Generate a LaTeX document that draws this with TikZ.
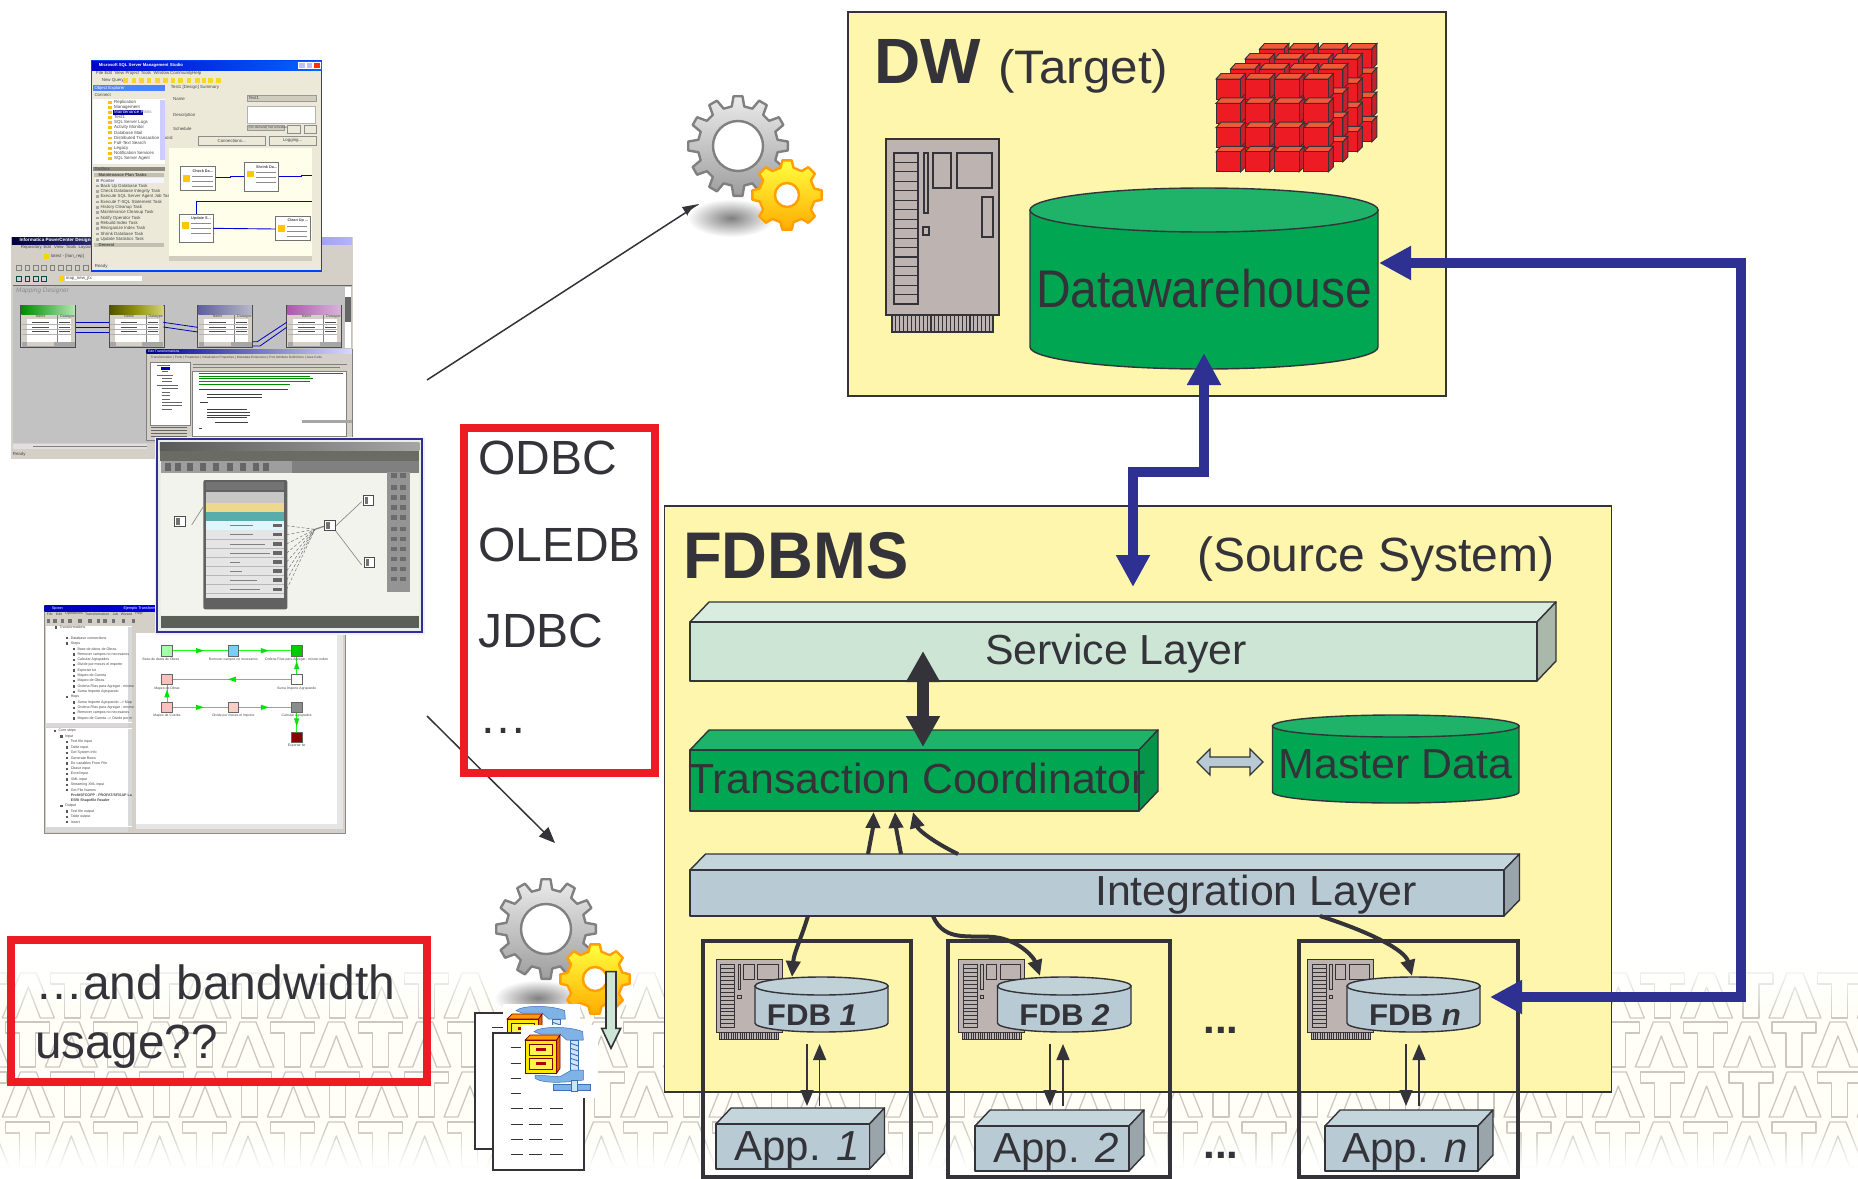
\documentclass[tikz,border=0pt]{standalone}
\usepackage{fontspec}
\setmainfont{Liberation Sans}
\usetikzlibrary{arrows.meta,fadings,shadings}
\definecolor{ink}{HTML}{333339}
\definecolor{paleY}{HTML}{FEF6AD}
\definecolor{grn}{HTML}{00A651}
\definecolor{grnT}{HTML}{1FB36A}
\definecolor{grnS}{HTML}{069448}
\definecolor{svcF}{HTML}{CCE5D5}
\definecolor{svcT}{HTML}{D8ECDF}
\definecolor{svcS}{HTML}{A9B8A8}
\definecolor{intF}{HTML}{B8CAD3}
\definecolor{intT}{HTML}{C5D5DC}
\definecolor{intS}{HTML}{9AA4AB}
\definecolor{srv}{HTML}{BDB3B0}
\definecolor{navy}{HTML}{2E3192}
\definecolor{redB}{HTML}{ED1C24}
\definecolor{cubeT}{HTML}{F15A38}
\definecolor{cubeS}{HTML}{C8202A}
\definecolor{patt}{HTML}{CBC8C2}
\definecolor{winbg}{HTML}{ECE9D8}
\definecolor{greybg}{HTML}{D4D0C8}
\definecolor{clampB}{HTML}{7FB2E5}
\definecolor{clampL}{HTML}{CFE4F7}
\definecolor{clampD}{HTML}{3E6FB5}
\definecolor{canvasW}{HTML}{F3F3EE}
\definecolor{barD}{HTML}{5A5F58}
\definecolor{barM}{HTML}{6A6C64}
\newcommand{\fs}[1]{\fontsize{#1}{#1}\selectfont}
\newcounter{scrn}
\newcommand{\scrtxt}[4][]{\stepcounter{scrn}\node[scrlabel,#1] (scr\arabic{scrn}) at (#2,#3) {#4};}
\newcommand{\prism}[9]{%
  \fill[#8,draw=ink,line width=1.4pt,line join=round] (#1,#4) -- ({#1+#6},#3) -- ({#2+#6},#3) -- (#2,#4) -- cycle;
  \fill[#9,draw=ink,line width=1.4pt,line join=round] (#2,#4) -- ({#2+#6},#3) -- ({#2+#6},{#5-#4+#3}) -- (#2,#5) -- cycle;
  \fill[#7,draw=ink,line width=1.4pt,line join=round] (#1,#4) rectangle (#2,#5);}
\newcommand{\cyl}[7]{% x1 x2 ycentre yend ry body top
  \pgfmathsetmacro{\cylrx}{(#2-#1)/2}
  \fill[#6,draw=ink,line width=1.4pt] (#1,#3) -- (#1,#4) arc[start angle=180,end angle=360,x radius=\cylrx pt,y radius=#5 pt] -- (#2,#3) -- cycle;
  \fill[#7,draw=ink,line width=1.4pt] ({(#1+#2)/2},#3) ellipse[x radius=\cylrx pt,y radius=#5 pt];}
\newcommand{\server}[5]{% x y xscale yscale lw
  \begin{scope}[shift={(#1,#2)},xscale=#3,yscale=#4,line width=#5pt,draw=ink]
    \fill[srv,draw=ink] (0,0) rectangle (113,176);
    \fill[srv,draw=ink] (6,176) rectangle (107,193);
    \foreach \i in {0,...,25} {\draw ({6+\i*3.9},176) -- ({6+\i*3.9},193);}
    \draw (8,14) rectangle (32,165);
    \foreach \i in {1,...,15} {\draw (8,{14+\i*9.45}) -- (33,{14+\i*9.45});}
    \draw (38,14) rectangle (42,74);
    \draw (47,14) rectangle (65,49);
    \draw (71,14) rectangle (106,49);
    \draw (96,58) rectangle (107,98);
    \draw (37,88) rectangle (43,96);
  \end{scope}}
\newcommand{\gearshape}[5]{% cx cy R n style
  \begin{scope}[shift={(#1,#2)}]
    \pgfmathsetmacro{\gs}{360/#4}
    \pgfmathsetmacro{\gr}{.80*#3}
    \path[#5] (-.3*\gs:\gr)
      \foreach \k [evaluate=\k as \ga using \k*\gs] in {0,...,\numexpr#4-1\relax} {
        -- ({\ga-.3*\gs}:\gr) -- ({\ga-.17*\gs}:#3) -- ({\ga+.17*\gs}:#3) -- ({\ga+.3*\gs}:\gr)
      } -- cycle;
  \end{scope}}
\newcommand{\zipicon}{%
  \fill[white] (183,495) rectangle (415,715);
  \fill[clampB,draw=clampD,line width=.5pt] (222,515) .. controls (240,498) and (330,498) .. (368,515) -- (370,540) -- (320,540) -- (300,522) -- (240,522) -- cycle;
  \fill[clampL,draw=clampD,line width=.5pt] (332,540) rectangle (355,630);
  \foreach \yy in {550,565,580,595,610} {\draw[clampD,line width=.9pt] (332,\yy) -- (355,{\yy+8});}
  \fill[clampB,draw=clampD,line width=.5pt] (225,645) -- (300,650) -- (335,630) -- (370,630) -- (370,660) .. controls (320,668) and (250,672) .. (225,655) -- cycle;
  \fill[clampB,draw=clampD,line width=.5pt] (280,672) rectangle (392,692);
  \fill[clampL,draw=clampD,line width=.5pt] (335,660) rectangle (352,695);
  \fill[orange!80!yellow,draw=red!50!black,line width=.7pt] (195,540) -- (210,525) -- (300,525) -- (290,540) -- cycle;
  \fill[orange!85!black,draw=red!50!black,line width=.7pt] (290,540) -- (300,525) -- (300,625) -- (290,640) -- cycle;
  \fill[yellow!90!orange,draw=red!50!black,line width=.7pt] (195,540) rectangle (290,640);
  \fill[yellow!70!white,draw=red!50!black,line width=.6pt] (207,553) rectangle (277,585);
  \fill[yellow!70!white,draw=red!50!black,line width=.6pt] (207,595) rectangle (277,627);
  \fill[red!70!black] (228,565) rectangle (258,573);
  \fill[red!70!black] (228,607) rectangle (258,615);}
\newcommand{\maptable}[3]{%
  \fill[greybg,draw=black!70,line width=.7pt] (#1,795) rectangle ({#1+165},922);
  \shade[left color=#2,right color=#3] ({#1+2},797) rectangle ({#1+163},823);
  \fill[white] ({#1+18},838) rectangle ({#1+150},905);
  \fill[black!35] ({#1+3},905) rectangle ({#1+162},920);
  \fill[greybg] ({#1+20},905) rectangle ({#1+100},918);
  \scrtxt[font=\fs{3.6}]{#1+45}{830}{Name}
  \scrtxt[font=\fs{3.6}]{#1+118}{830}{Datatype}
  \draw[black!50,line width=.3pt] ({#1+110},825) -- ({#1+110},905);
  \foreach \yy in {853,868,883} {\draw[black!30,line width=.3pt] ({#1+3},\yy) -- ({#1+150},\yy);}
  \foreach \yy in {847,861,875} {
    \draw[black!70,line width=.9pt] ({#1+35},\yy) -- ({#1+85},\yy);
    \draw[black!70,line width=.9pt] ({#1+116},\yy) -- ({#1+148},\yy);}}
\tikzset{
  scrlabel/.style={font=\fs{4.4},text=black!72,inner sep=0pt,anchor=west},
  heading/.style={inner sep=0pt,anchor=base,text=ink},
  taglabel/.style={inner sep=0pt,anchor=base west,text=ink,font=\fs{48}},
  panel/.style={draw=ink,fill=paleY,line width=1.8pt,inner sep=0pt,outer sep=0pt,anchor=north west},
  redframe/.style={draw=redB,line width=8pt,fill=none,inner sep=0pt,outer sep=0pt,anchor=north west},
  hostframe/.style={draw=ink,line width=4pt,fill=none,inner sep=0pt,outer sep=0pt,anchor=north west},
  buslink/.style={navy,line width=10.5pt,line join=miter},
  flowthick/.style={draw=ink,line width=4pt,-{Triangle[length=16pt,width=14pt]}},
  flowthin/.style={draw=ink,line width=1.5pt,-{Triangle[length=16pt,width=13pt]}},
  thinpointer/.style={draw=ink,line width=1.5pt,-{Triangle[length=16pt,width=13pt]}},
  bigG/.style={fill,top color=black!8,bottom color=black!38,draw=black!50,line width=2.4pt,line join=round},
  smallG/.style={fill,top color=yellow!75!white,bottom color=orange!65!yellow,draw=orange!75!yellow,line width=2.4pt,line join=round},
  Zone/.style={x=.33333pt,y=-.33333pt,shift={(0pt,-40pt)}},
  Ztwo/.style={x=.33333pt,y=-.33333pt,shift={(0pt,-430pt)}},
  Zfour/.style={x=.33333pt,y=-.33333pt,shift={(460pt,-860pt)}},
}
\begin{document}
\begin{tikzpicture}[x=1pt,y=-1pt]
\useasboundingbox (0,0) rectangle (1858,1178);
\fill[white] (0,0) rectangle (1858,1178);
% ---------- background pattern
\begin{scope}
  \clip (0,950) rectangle (1858,1178);
  \fill[white!97!yellow] (0,960) rectangle (1858,1165);
  \foreach \ry/\ax in {973/205,1022/248,1072/205,1122/248} {
    \foreach \k in {-3,...,19} {
      \pgfmathsetmacro{\apx}{\ax+\k*88.33}
      \pgfmathsetmacro{\tx}{\apx+44.5}
      \draw[patt,line width=1.3pt,line join=round,shift={(\apx,\ry)}]
        (-26,45) -- (-8,0) -- (8,0) -- (26,45) -- (12,45) -- (0,14) -- (-12,45) -- cycle;
      \draw[patt,line width=1.3pt,line join=round,shift={(\tx,\ry)}]
        (-22,0) -- (22,0) -- (22,11) -- (8,11) -- (8,45) -- (-8,45) -- (-8,11) -- (-22,11) -- cycle;
    }
  }
\end{scope}
\fill[white,path fading=south] (0,958) rectangle (1858,1020);
\fill[white,path fading=north] (0,1126) rectangle (1858,1168);
\fill[white] (0,1168) rectangle (1858,1178);

% ---------- window 2: mapping designer
\begin{scope}[Zone]
  \fill[greybg] (33,590) rectangle (1058,1258);
  \shade[left color=black!75!blue,right color=blue!30!white] (36,593) rectangle (1055,612);
  \scrtxt[text=white,font=\bfseries\fs{4.6}]{58}{602}{Informatica PowerCenter Designer}
  \scrtxt{62}{622}{Repository}
  \scrtxt{130}{622}{Edit}
  \scrtxt{162}{622}{View}
  \scrtxt{197}{622}{Tools}
  \scrtxt{235}{622}{Layout}
  \foreach \xx in {50,75,100,125,150,175,200,225,250} {\draw[black!50,line width=.8pt] (\xx,676) rectangle ({\xx+14},690);}
  \fill[yellow!70!orange] (132,643) rectangle (146,656);
  \scrtxt{152}{648}{latest - [han\_rep]}
  \foreach \xx in {50,75,100,125} {\draw[teal!60!black,line width=.8pt] (\xx,709) rectangle ({\xx+14},723);}
  \fill[white] (195,708) rectangle (425,724);
  \fill[yellow!70!orange] (177,709) rectangle (191,723);
  \scrtxt{197}{716}{map\_new\_jtx}
  \fill[black!24] (38,735) rectangle (1056,1208);
  \draw[black!60,line width=.7pt] (38,735) -- (1056,735);
  \scrtxt[font=\itshape\fs{6.5},text=black!45]{48}{752}{Mapping Designer}
  \maptable{62}{green!55!black}{green!25!white!80!gray}
  \maptable{327}{olive!65!black}{olive!35!white}
  \maptable{593}{blue!25!gray}{blue!12!gray!50}
  \maptable{860}{violet!65}{violet!30!white}
  \foreach \yy in {847,861,876} {\draw[blue!75!black,line width=.8pt] (228,\yy) -- (327,\yy);}
  \draw[blue!75!black,line width=.8pt] (490,847) -- (593,862);
  \draw[blue!75!black,line width=.8pt] (490,861) -- (593,876);
  \draw[blue!75!black,line width=.8pt] (757,905) -- (772,905) -- (860,847);
  \draw[blue!75!black,line width=.8pt] (757,918) -- (780,918) -- (860,862);
  \fill[white] (1036,740) rectangle (1052,925);
  \fill[black!60] (1036,770) rectangle (1052,845);
  \fill[black!12] (40,1212) rectangle (440,1228);
  \fill[black!50] (100,1218) rectangle (440,1222);
  \fill[greybg] (33,1232) rectangle (450,1258);
  \scrtxt{38}{1244}{Ready}
  % ---------- window 3: edit transformations
  \fill[greybg,draw=black!50,line width=.5pt] (440,928) rectangle (1056,1200);
  \shade[left color=blue!55!black,right color=blue!15!white] (440,929) rectangle (1056,941);
  \scrtxt[text=white,font=\fs{3.4}]{444}{935}{Edit Transformations}
  \scrtxt[font=\fs{3.2}]{452}{952}{Transformation | Ports | Properties | Initialization Properties | Metadata Extensions | Port Attribute Definitions | Java Code}
  \draw[black!50,line width=.6pt] (578,972) -- (1040,972) (578,982) -- (1020,982);
  \fill[white,draw=black!50,line width=.4pt] (452,968) rectangle (570,1155);
  \fill[white,draw=black!50,line width=.4pt] (578,995) rectangle (1040,1190);
  \foreach \yy/\xa/\xb in {975/470/510,985/485/510,995/485/505,1005/470/520,1015/485/515,1025/485/515,1035/470/535,1045/485/535,1056/485/510,1066/485/510,1077/485/510,1087/485/545,1097/485/545,1107/485/515} {\draw[black!60,line width=.7pt] (\xa,\yy) -- (\xb,\yy);}
  \fill[blue!70!black] (484,981) rectangle (510,990);
  \foreach \yy/\xa/\xb in {1000/598/1030,1008/598/930,1016/598/940,1024/598/930,1032/598/870} {\draw[green!55!black,line width=.8pt] (\xa,\yy) -- (\xb,\yy);}
  \foreach \yy/\xa/\xb in {1048/598/865,1064/620/785,1072/620/785,1088/600/625,1108/620/740,1117/620/750,1125/620/750,1133/620/740,1148/645/745,1165/598/605} {\draw[black!75,line width=.8pt] (\xa,\yy) -- (\xb,\yy);}
  \draw[black!60,line width=.8pt] (452,1163) -- (560,1163) (452,1172) -- (560,1172) (452,1181) -- (560,1181) (452,1189) -- (560,1189);
  \fill[black!35] (905,1140) rectangle (1056,1150);
  % ---------- window 1: SQL Server Management Studio
  \fill[winbg,draw=blue!75!cyan,line width=1.5pt] (275,62) rectangle (965,693);
  \shade[left color=blue!80!black,right color=blue!60!cyan] (276,64) rectangle (964,90);
  \scrtxt[text=white,font=\bfseries\fs{4.2}]{296}{77}{Microsoft SQL Server Management Studio}
  \fill[blue!25!white,draw=white,line width=.4pt] (895,67) rectangle (915,85);
  \fill[blue!25!white,draw=white,line width=.4pt] (918,67) rectangle (937,85);
  \fill[red!60!orange,draw=white,line width=.4pt] (940,67) rectangle (960,85);
  \scrtxt{288}{100}{File}
  \scrtxt{313}{100}{Edit}
  \scrtxt{343}{100}{View}
  \scrtxt{376}{100}{Project}
  \scrtxt{422}{100}{Tools}
  \scrtxt{460}{100}{Window}
  \scrtxt{510}{100}{Community}
  \scrtxt{576}{100}{Help}
  \scrtxt{305}{122}{New Query}
  \foreach \xx in {370,395,418,440,465,490,512,535,560,585,605,625,648} {\fill[yellow!60!orange!80] (\xx,115) rectangle ({\xx+14},128);}
  \fill[blue!70!cyan!70] (279,136) rectangle (496,153);
  \scrtxt[text=white]{283}{144}{Object Explorer}
  \scrtxt{283}{166}{Connect}
  \fill[white] (280,178) rectangle (495,372);
  \foreach \yy/\tt in {187/Replication,202/Management,217/Maintenance Plans,232/Test1,248/SQL Server Logs,263/Activity Monitor,278/Database Mail,294/Distributed Transaction Coord,309/Full-Text Search,325/Legacy,340/Notification Services,355/SQL Server Agent} {
    \scrtxt{342}{\yy}{\tt}
    \fill[yellow!55!orange] (325,{\yy-4}) rectangle (336,{\yy+4});}
  \fill[blue!60!black] (340,210) rectangle (430,224);
  \scrtxt[text=white]{342}{217}{Maintenance Plans}
  \fill[blue!20!white] (480,180) rectangle (495,360);
  \fill[black!40!winbg] (280,380) rectangle (495,394);
  \scrtxt{283}{387}{Toolbox}
  \fill[black!18!winbg] (282,400) rectangle (493,412);
  \scrtxt[font=\bfseries\fs{4.2}]{295}{406}{Maintenance Plan Tasks}
  \fill[white!60!blue!10] (284,414) rectangle (493,430);
  \foreach \yy/\tt in {422/Pointer,438/Back Up Database Task,454/Check Database Integrity Task,470/Execute SQL Server Agent Job Task,486/Execute T-SQL Statement Task,502/History Cleanup Task,518/Maintenance Cleanup Task,534/Notify Operator Task,550/Rebuild Index Task,566/Reorganize Index Task,582/Shrink Database Task,598/Update Statistics Task} {
    \scrtxt{301}{\yy}{\tt}
    \fill[black!35] (287,{\yy-4}) rectangle (297,{\yy+4});}
  \fill[black!18!winbg] (282,609) rectangle (493,621);
  \scrtxt[font=\bfseries\fs{4.2}]{295}{615}{General}
  \scrtxt{284}{680}{Ready}
  \scrtxt{512}{143}{Test1 [Design]}
  \scrtxt{600}{143}{Summary}
  \scrtxt{519}{178}{Name}
  \scrtxt{519}{226}{Description}
  \scrtxt{519}{268}{Schedule}
  \fill[black!12!winbg,draw=black!40,line width=.4pt] (742,167) rectangle (950,185);
  \scrtxt{745}{175}{Test1}
  \fill[white,draw=black!30,line width=.4pt] (742,200) rectangle (945,250);
  \fill[black!12!winbg,draw=black!40,line width=.4pt] (742,257) rectangle (852,272);
  \scrtxt[font=\fs{3.2}]{745}{264}{(On demand) Not scheduled}
  \fill[winbg,draw=black!45,line width=.4pt] (862,257) rectangle (900,280);
  \fill[winbg,draw=black!45,line width=.4pt] (912,257) rectangle (950,280);
  \fill[winbg,draw=black!45,line width=.5pt] (596,290) rectangle (797,315);
  \scrtxt[anchor=center]{695}{302}{Connections...}
  \fill[winbg,draw=black!45,line width=.5pt] (807,290) rectangle (950,315);
  \scrtxt[anchor=center]{878}{302}{Logging...}
  \fill[yellow!8!white] (507,323) rectangle (935,648);
  \fill[black!12!winbg] (507,648) rectangle (935,662);
  \foreach \xa/\ya/\xb/\yb/\tt in {542/380/647/450/{Check Da...},733/367/836/455/{Shrink Da...},538/522/640/607/{Update S...},827/530/930/602/{Clean Up ...}} {
    \fill[white,draw=black!55,line width=.7pt] (\xa,\ya) rectangle (\xb,\yb);
    \scrtxt[font=\bfseries\fs{3.8}]{\xa+35}{\ya+13}{\tt}
    \foreach \rr in {29,44,59} {\draw[black!45,line width=.7pt] ({\xa+35},{\ya+\rr}) -- ({\xb-8},{\ya+\rr});}
    \fill[yellow!60!orange] ({\xa+8},{\ya+25}) rectangle ({\xa+28},{\ya+45});}
  \draw[blue!85!black,line width=.9pt] (647,413) -- (690,413) -- (690,410) -- (733,410);
  \draw[blue!85!black,line width=.9pt] (836,410) -- (905,410) -- (905,405) -- (936,405);
  \draw[blue!85!black,line width=.9pt] (936,485) -- (590,485) -- (590,522);
  \draw[blue!85!black,line width=.9pt] (640,565) -- (827,567);
\end{scope}

% ---------- window 5: Spoon, window 4: blurred designer
\begin{scope}[Ztwo]
  \fill[greybg,draw=black!45,line width=.5pt] (132,525) rectangle (1037,1210);
  \shade[left color=blue!70!black,right color=blue!90!black] (134,527) rectangle (480,543);
  \scrtxt[text=white,font=\fs{3.8}]{155}{535}{Spoon}
  \scrtxt[text=white,font=\fs{3.8}]{370}{535}{Ejemplo Transform}
  \scrtxt[font=\fs{3.6}]{140}{552}{File}
  \scrtxt[font=\fs{3.6}]{167}{552}{Edit}
  \scrtxt[font=\fs{3.6}]{195}{552}{Operations}
  \scrtxt[font=\fs{3.6}]{255}{552}{Transformation}
  \scrtxt[font=\fs{3.6}]{337}{552}{Job}
  \scrtxt[font=\fs{3.6}]{362}{552}{Wizard}
  \scrtxt[font=\fs{3.6}]{405}{552}{Help}
  \foreach \xx in {140,160,182,205,235,265,290,310,335,365,395} {\fill[black!55] (\xx,566) rectangle ({\xx+10},578);}
  \fill[white] (138,588) rectangle (396,878);
  \fill[white] (138,895) rectangle (396,1190);
  \fill[black!15] (385,590) rectangle (396,875);
  \fill[black!15] (385,897) rectangle (396,1188);
  \fill[black!15] (138,878) rectangle (385,890);
  \fill[black!15] (138,1192) rectangle (385,1205);
  \foreach \yy/\xx/\tt in {592/178/Transformations,624/212/Database connections,640/212/Steps,657/232/Base de datos de Obras,673/232/Remover campos no necesarios,689/232/Calcular Agrupados,705/232/Divide por meses el importe,721/232/Exportar txt,737/232/Mapeo de Cuenta,753/232/Mapeo de Obras,769/232/Ordena Filas para Agregar - mismo,785/232/Suma Importe Agrupando,801/212/Hops,817/232/Suma Importe Agrupando --> Map,833/232/Ordena Filas para Agregar - mismo,849/232/Remover campos no necesarios,865/232/Mapeo de Cuenta --> Divide por m,903/175/Core steps,919/195/Input,936/212/Text file input,952/212/Table input,968/212/Get System Info,984/212/Generate Rows,1000/212/Do variables From File,1016/212/Cbase input,1032/212/Excel input,1048/212/XML input,1064/212/Streaming XML input,1080/212/Get File Names,1144/212/Text file output,1160/212/Table output,1176/212/Insert / Update,1128/195/Output} {
    \scrtxt[font=\fs{3.6}]{\xx}{\yy}{\tt}
    \fill[black!65] ({\xx-14},{\yy-3}) rectangle ({\xx-7},{\yy+4});}
  \scrtxt[font=\bfseries\fs{3.6}]{212}{1096}{ProfitSFCOPP - PROFAT/SF/SAP La}
  \scrtxt[font=\bfseries\fs{3.6}]{212}{1112}{ESRI Shapefile Reader}
  \fill[white] (408,610) rectangle (1010,1182);
  \fill[black!10] (1010,610) rectangle (1028,1195);
  \fill[black!10] (408,1182) rectangle (1028,1197);
  \foreach \xa/\ya/\xb/\yb in {501/662/700/662,700/662/890/662,890/748/890/662,890/748/501/748,501/832/501/748,501/832/700/832,700/832/890/832,890/832/890/922} {
    \draw[green!90!white,line width=.8pt] (\xa,\ya) -- (\xb,\yb);
    \fill[green!90!black] ({(\xa+\xb)/2+(\xb>\xa)*12-(\xb<\xa)*12},{(\ya+\yb)/2+(\yb>\ya)*12-(\yb<\ya)*12}) -- ++({(\xb<\xa)*24-(\xb>\xa)*24+(\xb==\xa)*8},{(\yb<\ya)*24-(\yb>\ya)*24+(\yb==\ya)*8}) -- ++({(\xb==\xa)*-16},{(\yb==\ya)*-16}) -- cycle;}
  \foreach \xx/\yy/\cc in {501/662/green!35!white,700/662/cyan!55!white,890/662/green!80!black,890/748/white,501/748/red!25!white,501/832/red!25!white,700/832/red!20!white,890/832/black!45,890/922/red!55!black} {
    \fill[\cc,draw=black!60,line width=.5pt] ({\xx-16},{\yy-16}) rectangle ({\xx+16},{\yy+16});}
  \foreach \xx/\yy/\tt in {483/689/Base de datos de Obras,700/689/Remover campos no necesarios,890/689/Ordena Filas para Agregar - mismo orden,890/775/Suma Importe Agrupando,501/775/Mapeo de Obras,501/858/Mapeo de Cuenta,700/858/Divide por meses el importe,890/858/Calcular Agrupados,890/948/Exportar txt} {
    \scrtxt[font=\fs{3.4},anchor=center]{\xx}{\yy}{\tt}}
  % window 4
  \fill[white!94!blue] (465,22) rectangle (1275,615);
  \fill[black!8] (470,28) rectangle (1267,607);
  \draw[navy,line width=1.8pt] (470,28) rectangle (1265,605);
  \shade[left color=black!65,right color=black!35] (480,36) rectangle (1258,62);
  \fill[barM] (480,62) rectangle (1258,92);
  \fill[black!38] (482,92) rectangle (875,130);
  \fill[black!50] (875,92) rectangle (1258,130);
  \foreach \xx in {495,525,560,600,640,680,720,760,790} {\fill[black!60] (\xx,100) rectangle ({\xx+18},122);}
  \fill[canvasW] (482,130) rectangle (1258,555);
  \fill[barD] (482,558) rectangle (1258,595);
  \fill[black!42] (1160,125) rectangle (1230,485);
  \foreach \yy in {130,165,195,225,255,290,320,350,380,410,440} {
    \fill[black!58] (1172,\yy) rectangle (1190,{\yy+14});
    \fill[black!58] (1200,\yy) rectangle (1218,{\yy+14});}
  \fill[black!62,rounded corners=2pt] (610,150) rectangle (862,538);
  \fill[black!22] (618,185) rectangle (853,505);
  \fill[black!55] (618,155) rectangle (853,180);
  \fill[yellow!45!brown!55!white] (618,218) rectangle (853,245);
  \fill[teal!65!white] (618,245) rectangle (853,272);
  \fill[cyan!12!white] (618,272) rectangle (853,300);
  \fill[black!10] (618,300) rectangle (853,505);
  \foreach \yy in {328,356,382,410,437,464,490} {\draw[black!28,line width=.5pt] (618,\yy) -- (853,\yy);}
  \foreach \yy/\wd in {287/70,314/70,342/105,369/120,396/30,423/35,450/80,478/90} {
    \draw[black!50,line width=1pt] (690,\yy) -- ({690+\wd},\yy);
    \fill[black!60] (820,{\yy-5}) rectangle (845,{\yy+5});
    \draw[black!55,line width=.5pt,densely dashed] (860,\yy) -- (945,298);}
  \draw[black!50,line width=1.2pt] (945,298) -- (975,288);
  \draw[black!45,line width=.7pt] (1005,290) -- (1085,215);
  \draw[black!45,line width=.7pt] (1005,300) -- (1085,405);
  \draw[black!45,line width=.7pt] (575,285) -- (610,230);
  \foreach \xa/\ya in {525/260,1090/197,1093/383,975/272} {
    \fill[white,draw=black!70,line width=1pt] (\xa,\ya) rectangle ({\xa+32},{\ya+30});
    \fill[black!55] ({\xa+4},{\ya+4}) rectangle ({\xa+14},{\ya+24});}
\end{scope}

% ---------- thin pointers and red frames
\coordinate (ptrA) at (427,380);
\coordinate (ptrB) at (699,204);
\coordinate (ptrC) at (427,716);
\coordinate (ptrD) at (555,843);
\draw[thinpointer] (ptrA) -- (ptrB);
\draw[thinpointer] (ptrC) -- (ptrD);
\node[redframe,minimum width=191pt,minimum height=345pt] (apis) at (464,428) {};
\node[taglabel] (odbc) at (478,474) {ODBC};
\node[taglabel] (oledb) at (478,561) {OLEDB};
\node[taglabel] (jdbc) at (478,647) {JDBC};
\node[taglabel] (more) at (479,733) {…};
\node[redframe,minimum width=416pt,minimum height=142pt] (bwframe) at (11,940) {};
\node[taglabel] (bwa) at (35,999) {…and bandwidth};
\node[taglabel] (bwb) at (35,1058) {\scalebox{.99}[1]{usage??}};

% ---------- gears
\shade[inner color=black!50,outer color=white,shading=radial] (731,218) ellipse[x radius=44pt,y radius=19pt];
\gearshape{738}{146}{50}{12}{bigG}
\fill[white,draw=black!50,line width=2.4pt] (738,146) circle[radius=25pt];
\gearshape{787}{195}{35}{8}{smallG}
\fill[white,draw=orange!75!yellow,line width=2.4pt] (787,195) circle[radius=12pt];

\fill[white] (492,877) rectangle (633,1005);
\shade[inner color=black!50,outer color=white,shading=radial] (538,998) ellipse[x radius=44pt,y radius=18pt];
\gearshape{546}{929}{50}{12}{bigG}
\fill[white,draw=black!50,line width=2.4pt] (546,929) circle[radius=25pt];
\gearshape{595}{979}{35}{8}{smallG}
\fill[white,draw=orange!75!yellow,line width=2.4pt] (595,979) circle[radius=12pt];
\begin{scope}[Zfour]
  \fill[white,draw=ink,line width=2pt] (45,458) rectangle (300,868);
  \draw[ink,line width=1.6pt] (95,503) -- (130,503);
  \begin{scope}[shift={(-18pt,21pt)}]\zipicon\end{scope}
  \fill[white,draw=ink,line width=2pt] (100,520) rectangle (373,930);
  \foreach \yy in {563,610,655,700} {\draw[ink,line width=1.6pt] (152,\yy) -- (183,\yy);}
  \foreach \yy in {746,793,838,883} {
    \draw[ink,line width=1.6pt] (152,\yy) -- (190,\yy) (208,\yy) -- (247,\yy) (270,\yy) -- (310,\yy);}
  \zipicon
  \fill[svcF,draw=ink,line width=1.6pt,line join=miter] (438,335) -- (468,335) -- (468,505) -- (482,505) -- (453,565) -- (425,505) -- (438,505) -- cycle;
\end{scope}

% ---------- DW panel
\node[panel,minimum width=598pt,minimum height=384pt] (dwbox) at (848,12) {};
\node[heading,font=\bfseries\fs{64},anchor=base west] (dwt) at (874,83) {DW};
\node[heading,font=\fs{47},anchor=base west] (dwtarget) at (998,83) {\scalebox{1.05}[1]{(Target)}};
\foreach \l in {3,2,1,0} {
  \foreach \r in {0,1,2,3} {
    \foreach \c in {0,1,2,3} {
      \pgfmathsetmacro{\cx}{1216+\c*29.3+\l*14.5}
      \pgfmathsetmacro{\cy}{79+\r*24.3-\l*10}
      \fill[cubeT,draw=ink,line width=.9pt] (\cx,\cy) -- ({\cx+5},{\cy-5.5}) -- ({\cx+29.5},{\cy-5.5}) -- ({\cx+24.5},\cy) -- cycle;
      \fill[cubeS,draw=ink,line width=.9pt] ({\cx+24.5},\cy) -- ({\cx+29.5},{\cy-5.5}) -- ({\cx+29.5},{\cy+15}) -- ({\cx+24.5},{\cy+20}) -- cycle;
      \fill[redB,draw=ink,line width=.9pt] (\cx,\cy) rectangle ({\cx+24.5},{\cy+20});
    }
  }
}
\server{886}{139}{1}{1}{1.1}
\cyl{1030}{1378}{210}{347}{22}{grn}{grnT}
\node[heading,font=\fs{53}] (dwh) at (1204,307) {\scalebox{.905}[1]{Datawarehouse}};

% ---------- FDBMS panel
\node[panel,minimum width=947pt,minimum height=586pt] (fdbms) at (664.5,506) {};
\node[heading,font=\bfseries\fs{66},anchor=base west] (fdbmst) at (683,578) {\scalebox{.96}[1]{FDBMS}};
\node[heading,font=\fs{48},anchor=base west] (srcs) at (1197,571) {(Source System)};
\prism{690}{1537}{602}{622}{681}{19}{svcF}{svcT}{svcS}
\node[heading,font=\fs{42}] (svc) at (1116,664) {\scalebox{1.02}[1]{Service Layer}};
\prism{690}{1139}{730}{750}{811}{19}{grn}{grnT}{grnS}
\node[heading,font=\fs{42}] (tc) at (917,793) {\scalebox{1.02}[1]{Transaction Coordinator}};
\cyl{1272.5}{1519}{726}{792}{11}{grn}{grnT}
\node[heading,font=\fs{42}] (master) at (1395.5,778) {\scalebox{1.02}[1]{Master Data}};
\prism{690}{1504}{854}{870}{916}{15.5}{intF}{intT}{intS}
\node[heading,font=\fs{42}] (integ) at (1256,905) {\scalebox{1.02}[1]{Integration Layer}};
% hollow double arrow
\fill[intF,draw=ink,line width=1.3pt,line join=miter] (1197,762) -- (1210,749) -- (1210,757) -- (1250,757) -- (1250,749) -- (1263,762) -- (1250,775) -- (1250,767) -- (1210,767) -- (1210,775) -- cycle;
% service <-> coordinator
\coordinate (svcTip) at (923,651);
\coordinate (tcTip) at (923,747);
\draw[ink,line width=11.5pt,{Triangle[length=31pt,width=32pt]}-{Triangle[length=31pt,width=32pt]}] (svcTip) -- (tcTip);

% ---------- hosts
\foreach \bx/\bw in {703/208,948/222,1299/219} {
  \node[hostframe,minimum width=\bw pt,minimum height=236pt] (host\bx) at (\bx,941) {};
}
\foreach \sx in {716,958.5,1307.5} {\server{\sx}{959}{.584}{.415}{.8}}
\cyl{755}{888}{986}{1023}{9}{intF}{intT!60!intF}
\cyl{997.5}{1131}{986}{1023}{9}{intF}{intT!60!intF}
\cyl{1347}{1480}{986}{1023}{9}{intF}{intT!60!intF}
\node[heading,font=\bfseries\fs{30}] (fdba) at (812,1025) {\scalebox{1.04}[1]{FDB \textit{1}}};
\node[heading,font=\bfseries\fs{30}] (fdbb) at (1064.5,1025) {\scalebox{1.04}[1]{FDB \textit{2}}};
\node[heading,font=\bfseries\fs{30}] (fdbc) at (1415,1025) {\scalebox{1.04}[1]{FDB \textit{n}}};
\prism{716}{869.5}{1108}{1124}{1169}{15}{intF}{intT}{intS}
\prism{975}{1129}{1110}{1126}{1171}{15}{intF}{intT}{intS}
\prism{1325}{1478}{1110}{1126}{1171}{15}{intF}{intT}{intS}
\node[heading,font=\fs{42}] (appa) at (797,1160) {App. \textit{1}};
\node[heading,font=\fs{42}] (appb) at (1056,1162) {App. \textit{2}};
\node[heading,font=\fs{42}] (appc) at (1405,1162) {App. \textit{n}};
\node[heading,font=\bfseries\fs{42}] (dotsa) at (1221,1033) {...};
\node[heading,font=\bfseries\fs{42}] (dotsb) at (1221,1158) {...};

% ---------- flows between layer, coordinator, databases
\coordinate (ilU1) at (868,854); \coordinate (tcD1) at (873.5,812);
\coordinate (ilU2) at (901,854); \coordinate (tcD2) at (895,812);
\coordinate (ilU3) at (958,854); \coordinate (tcD3) at (913,812);
\draw[flowthick] (ilU1) .. controls (871,838) and (873,828) .. (tcD1);
\draw[flowthick] (ilU2) .. controls (898,838) and (896,828) .. (tcD2);
\draw[flowthick] (ilU3) .. controls (935,843) and (918,830) .. (tcD3);
\coordinate (ilD1) at (808,916); \coordinate (dbT1) at (792,977);
\coordinate (ilD2) at (933,916); \coordinate (dbT2) at (1040,976);
\coordinate (ilD3) at (1320,916); \coordinate (dbT3) at (1412,976);
\draw[flowthick] (ilD1) .. controls (800,942) and (794,952) .. (dbT1);
\draw[flowthick] (ilD2) .. controls (945,945) and (975,933) .. (1000,938) .. controls (1022,943) and (1034,958) .. (dbT2);
\draw[flowthick] (ilD3) .. controls (1370,932) and (1405,950) .. (dbT3);
\foreach \dx/\ux in {807/819.6,1050/1063,1406/1419} {
  \coordinate (dbB\dx) at (\dx,1044);
  \coordinate (apT\dx) at (\dx,1106);
  \coordinate (dbC\dx) at (\ux,1044);
  \coordinate (apC\dx) at (\ux,1106);
  \draw[flowthin] (dbB\dx) -- (apT\dx);
  \draw[flowthin] (apC\dx) -- (dbC\dx);
}

% ---------- navy connectors
\coordinate (dwE) at (1379,263);
\coordinate (busNE) at (1741,263);
\coordinate (busSE) at (1741,997);
\coordinate (fdbE) at (1490,997);
\draw[buslink,{Triangle[length=32pt,width=32pt]}-{Triangle[length=32pt,width=32pt]}] (dwE) -- (busNE) -- (busSE) -- (fdbE);
\coordinate (dwS) at (1204,353);
\coordinate (elbowA) at (1204,472);
\coordinate (elbowB) at (1133,472);
\coordinate (fdbmsN) at (1133,587);
\draw[buslink,{Triangle[length=32pt,width=32pt]}-{Triangle[length=32pt,width=32pt]}] (dwS) -- (elbowA) -- (elbowB) -- (fdbmsN);
\end{tikzpicture}
\end{document}
